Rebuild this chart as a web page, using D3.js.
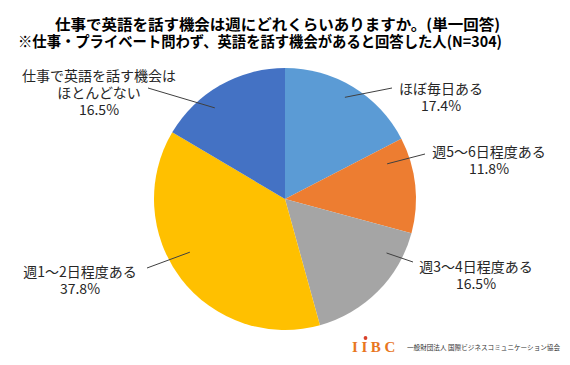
<!DOCTYPE html>
<html><head><meta charset="utf-8">
<script src="https://cdn.jsdelivr.net/npm/d3@7"></script>
<style>
html,body{margin:0;padding:0;background:#fff;}
svg{display:block;}
</style></head>
<body>
<svg id="chart" width="570" height="365"></svg>
<script>
// ---- data ----
const titleLines = ["仕事で英語を話す機会は週にどれくらいありますか。(単一回答)",
                    "※仕事・プライベート問わず、英語を話す機会があると回答した人(N=304)"];
const categories = ["ほぼ毎日ある", "週5～6日程度ある", "週3～4日程度ある", "週1～2日程度ある", "仕事で英語を話す機会はほとんどない"];
const labelLines = [["ほぼ毎日ある"], ["週5～6日程度ある"], ["週3～4日程度ある"], ["週1～2日程度ある"], ["仕事で英語を話す機会は", "ほとんどない"]];
const values = [17.4, 11.8, 16.5, 37.8, 16.5];
const colors = ["#5B9BD5", "#ED7D31", "#A5A5A5", "#FFC000", "#4472C4"];
const orgName = "一般財団法人 国際ビジネスコミュニケーション協会";

// ---- layout (label placement) ----
const FONT = '"Noto Sans CJK JP","Noto Sans",sans-serif';
const cx = 285, cy = 199, R = 131;
const titleLayout = [{x: 55, y: 23, w: 445}, {x: 18, y: 40, w: 484}];
// leader start: angle (deg from north, clockwise) and radius; leader end; text center x, first-line y
const labelLayout = [
  {a: 30.5, r: 118, ex: 392, ey: 88,  tx: 441, ty: 88},
  {a: 71,   r: 108, ex: 425, ey: 154, tx: 489, ty: 151},
  {a: 118,  r: 115, ex: 413, ey: 262, tx: 476, ty: 266},
  {a: 240.8,r: 109, ex: 147, ey: 268, tx: 80,  ty: 271},
  {a: 322.4,r: 115, ex: 148, ey: 88,  tx: 99,  ty: 75}
];

const svg = d3.select("#chart");

// title
svg.append("g").selectAll("text").data(titleLines).join("text")
  .attr("x", (d,i) => titleLayout[i].x)
  .attr("y", (d,i) => titleLayout[i].y)
  .attr("textLength", (d,i) => titleLayout[i].w)
  .attr("lengthAdjust", "spacingAndGlyphs")
  .attr("dominant-baseline", "central")
  .style("font-family", FONT)
  .attr("font-size", 15)
  .attr("font-weight", "bold")
  .attr("fill", "#000")
  .text(d => d);

// pie
const pie = d3.pie().sort(null).value(d => d);
const arc = d3.arc().innerRadius(0).outerRadius(R);
const arcs = pie(values);
const g = svg.append("g").attr("transform", `translate(${cx},${cy})`);
g.selectAll("path").data(arcs).join("path")
  .attr("d", arc)
  .attr("fill", (d,i) => colors[i]);

// leader lines
const rad = Math.PI/180;
svg.append("g").selectAll("line").data(labelLayout).join("line")
  .attr("x1", d => cx + d.r*Math.sin(d.a*rad))
  .attr("y1", d => cy - d.r*Math.cos(d.a*rad))
  .attr("x2", d => d.ex)
  .attr("y2", d => d.ey)
  .attr("stroke", "#404040")
  .attr("stroke-width", 1);

// labels
const lg = svg.append("g");
labelLayout.forEach((L, i) => {
  const lines = labelLines[i].concat([d3.format(".1f")(values[i]) + "%"]);
  lg.selectAll(null).data(lines).join("text")
    .attr("x", L.tx)
    .attr("y", (d,j) => L.ty + j*17)
    .attr("text-anchor", "middle")
    .attr("dominant-baseline", "central")
    .style("font-family", FONT)
    .attr("font-size", 14)
    .attr("fill", "#262626")
    .text(d => d);
});

// logo
const logo = svg.append("g");
logo.append("text").attr("x", 352).attr("y", 352)
  .style("font-family", "'Liberation Serif','DejaVu Serif',serif")
  .attr("font-weight", "bold")
  .attr("font-size", 15).attr("letter-spacing", 3.6).attr("fill", "#E8761E")
  .text("IIBC");
logo.append("circle").attr("cx", 365.5).attr("cy", 338).attr("r", 1.9).attr("fill", "#D8402A");
logo.append("text").attr("x", 407).attr("y", 347)
  .attr("dominant-baseline", "central")
  .style("font-family", FONT)
  .attr("font-size", 6.6).attr("fill", "#333")
  .text(orgName);
</script>
</body></html>
